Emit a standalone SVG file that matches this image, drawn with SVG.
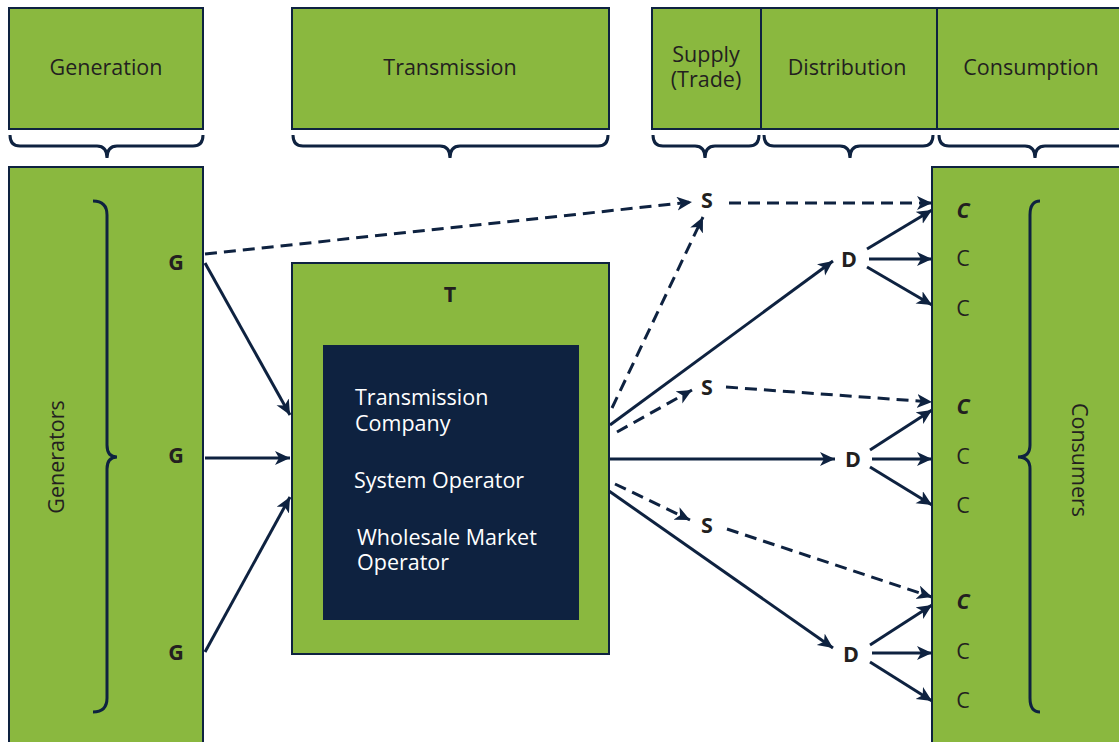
<svg xmlns="http://www.w3.org/2000/svg" width="1119" height="742" viewBox="0 0 1119 742">
<style>
.box{fill:#8AB83F;stroke:#0E2240;stroke-width:2}
.inner{fill:#0E2240}
.lbl{font-family:"Open Sans","Liberation Sans",sans-serif;font-size:21.5px;fill:#231F20;text-anchor:middle}
.b{font-weight:bold}
.bi{font-weight:bold;font-style:italic}
.w{fill:#FFFFFF;text-anchor:start}
.brace{fill:none;stroke:#0E2240;stroke-width:3}
.c{fill:none;stroke:#0E2240;stroke-width:3}
.d{stroke-dasharray:12 7}
</style>
<defs>
<marker id="ah" markerUnits="userSpaceOnUse" markerWidth="18" markerHeight="16" refX="15" refY="7" orient="auto">
<path d="M0,0 L15,7 L0,14 L4,7 z" fill="#0E2240"/>
</marker>
</defs>
<g id="hdr-generation"><rect class="box" x="9" y="8" width="194" height="121"/><text class="lbl" x="106" y="75">Generation</text></g>
<g id="hdr-transmission"><rect class="box" x="292" y="8" width="317" height="121"/><text class="lbl" x="450" y="75">Transmission</text></g>
<g id="hdr-supply"><rect class="box" x="652" y="8" width="109" height="121"/><text class="lbl" x="706" y="62">Supply<tspan x="706" dy="25">(Trade)</tspan></text></g>
<g id="hdr-distribution"><rect class="box" x="761" y="8" width="176" height="121"/><text class="lbl" x="847" y="75">Distribution</text></g>
<g id="hdr-consumption"><rect class="box" x="937" y="8" width="190" height="121"/><text class="lbl" x="1031" y="75">Consumption</text></g>
<g id="braces-top">
<path class="brace" d="M10,135 Q10,146 20,146 L97,146 Q107,146 107,158 Q107,146 117,146 L193,146 Q203,146 203,135"/>
<path class="brace" d="M293,135 Q293,146 303,146 L440,146 Q450,146 450,158 Q450,146 460,146 L598,146 Q608,146 608,135"/>
<path class="brace" d="M653,135 Q653,146 663,146 L695,146 Q705,146 705,158 Q705,146 715,146 L749,146 Q759,146 759,135"/>
<path class="brace" d="M764,135 Q764,146 774,146 L840,146 Q850,146 850,158 Q850,146 860,146 L923,146 Q933,146 933,135"/>
<path class="brace" d="M939,135 Q939,146 949,146 L1025,146 Q1035,146 1035,158 Q1035,146 1045,146 L1119,146"/>
</g>
<g id="generators">
<rect class="box" x="9" y="167" width="194" height="590"/>
<path class="brace" d="M93,201 Q107,201 107,215 L107,445 Q107,457 117,457 Q107,457 107,469 L107,698 Q107,712 93,712"/>
<text class="lbl" transform="translate(64,457) rotate(-90)">Generators</text>
<text class="lbl b" x="176" y="270">G</text>
<text class="lbl b" x="176" y="463">G</text>
<text class="lbl b" x="176" y="660">G</text>
</g>
<g id="transmission">
<rect class="box" x="292" y="263" width="317" height="391"/>
<rect class="inner" x="323" y="345" width="256" height="275"/>
<text class="lbl b" x="450" y="302">T</text>
<text class="lbl w" x="355" y="405">Transmission<tspan x="355" dy="26">Company</tspan></text>
<text class="lbl w" x="354" y="488">System Operator</text>
<text class="lbl w" x="357" y="545">Wholesale Market<tspan x="357" dy="25">Operator</tspan></text>
</g>
<g id="consumers">
<rect class="box" x="932" y="167" width="200" height="590"/>
<path class="brace" d="M1040,201 Q1030,201 1030,215 L1030,445 Q1030,457 1018,457 Q1030,457 1030,469 L1030,698 Q1030,712 1040,712"/>
<text class="lbl" transform="translate(1072,460) rotate(90)">Consumers</text>
<text class="lbl bi" x="963" y="218">C</text>
<text class="lbl" x="963" y="266">C</text>
<text class="lbl" x="963" y="316">C</text>
<text class="lbl bi" x="963" y="414">C</text>
<text class="lbl" x="963" y="464">C</text>
<text class="lbl" x="963" y="513">C</text>
<text class="lbl bi" x="963" y="609">C</text>
<text class="lbl" x="963" y="659">C</text>
<text class="lbl" x="963" y="708">C</text>
</g>
<g id="s1"><text class="lbl b" x="707" y="208">S</text></g>
<g id="s2"><text class="lbl b" x="707" y="395">S</text></g>
<g id="s3"><text class="lbl b" x="707" y="533">S</text></g>
<g id="d1"><text class="lbl b" x="849" y="267">D</text></g>
<g id="d2"><text class="lbl b" x="853" y="467">D</text></g>
<g id="d3"><text class="lbl b" x="851" y="662">D</text></g>
<g id="connectors">
<line class="c" x1="205" y1="263" x2="290" y2="415" marker-end="url(#ah)"/>
<line class="c" x1="205" y1="458" x2="290" y2="458" marker-end="url(#ah)"/>
<line class="c" x1="205" y1="652" x2="290" y2="497" marker-end="url(#ah)"/>
<line class="c d" x1="205" y1="254" x2="692" y2="202" marker-end="url(#ah)"/>
<line class="c d" x1="729" y1="203" x2="932" y2="203" marker-end="url(#ah)"/>
<line class="c d" x1="612" y1="408" x2="703" y2="217" marker-end="url(#ah)"/>
<line class="c" x1="610" y1="425" x2="833" y2="261" marker-end="url(#ah)"/>
<line class="c d" x1="617" y1="432" x2="692" y2="390" marker-end="url(#ah)"/>
<line class="c d" x1="726" y1="387" x2="932" y2="402" marker-end="url(#ah)"/>
<line class="c" x1="610" y1="459" x2="835" y2="459" marker-end="url(#ah)"/>
<line class="c d" x1="615" y1="484" x2="690" y2="520" marker-end="url(#ah)"/>
<line class="c d" x1="727" y1="529" x2="932" y2="597" marker-end="url(#ah)"/>
<line class="c" x1="609" y1="491" x2="833" y2="648" marker-end="url(#ah)"/>
<line class="c" x1="867" y1="249" x2="932" y2="210" marker-end="url(#ah)"/>
<line class="c" x1="869" y1="259" x2="932" y2="259" marker-end="url(#ah)"/>
<line class="c" x1="867" y1="267" x2="932" y2="305" marker-end="url(#ah)"/>
<line class="c" x1="870" y1="450" x2="932" y2="410" marker-end="url(#ah)"/>
<line class="c" x1="872" y1="459" x2="932" y2="459" marker-end="url(#ah)"/>
<line class="c" x1="870" y1="467" x2="932" y2="505" marker-end="url(#ah)"/>
<line class="c" x1="870" y1="645" x2="932" y2="605" marker-end="url(#ah)"/>
<line class="c" x1="872" y1="653" x2="932" y2="653" marker-end="url(#ah)"/>
<line class="c" x1="870" y1="662" x2="932" y2="701" marker-end="url(#ah)"/>
</g>
</svg>
